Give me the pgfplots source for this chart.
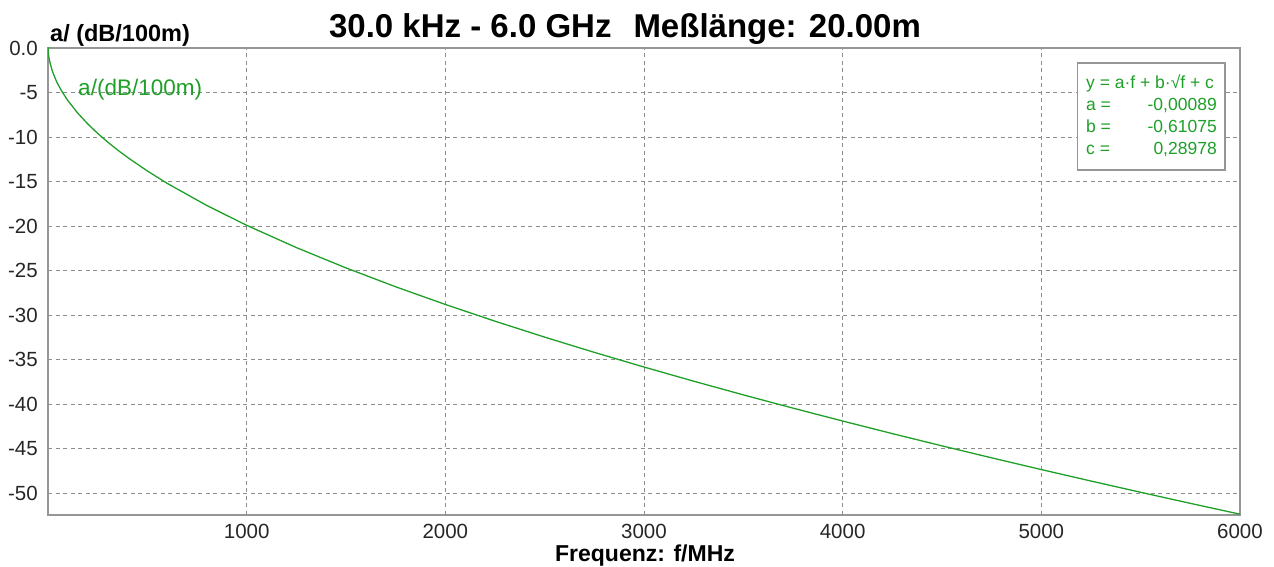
\documentclass[border=0pt]{standalone}
\usepackage{fontspec}
\setmainfont{Liberation Sans}
\usepackage{pgfplots}
\pgfplotsset{compat=1.18}
\definecolor{curve}{RGB}{30,160,40}
\definecolor{frame}{RGB}{150,150,150}
\definecolor{gridc}{RGB}{140,140,140}
\begin{document}
\begin{tikzpicture}[x=1bp,y=1bp]
\useasboundingbox (0,0) rectangle (1274,567);
\begin{axis}[
  at={(48bp,52bp)}, anchor=south west,
  scale only axis, width=1192bp, height=467bp,
  xmin=0, xmax=6000, ymin=-52.45, ymax=0,
  xtick={1000,2000,3000,4000,5000,6000},
  xticklabels={1000,2000,3000,4000,5000,6000},
  ytick={-50,-45,-40,-35,-30,-25,-20,-15,-10,-5,0},
  yticklabels={-50,-45,-40,-35,-30,-25,-20,-15,-10,-5,0.0},
  tick style={draw=none},
  ticklabel style={font=\fontsize{20.5bp}{24bp}\selectfont, text=black!85, inner sep=0pt},
  xticklabel style={anchor=base, yshift=-24bp},
  yticklabel style={anchor=east, xshift=-10bp},
  axis line style={draw=frame, line width=1.2bp},
  grid=major,
  major grid style={draw=gridc, dash pattern=on 4bp off 3.5bp, line width=0.9bp},
  clip=true,
]
\addplot[curve, line width=1.3bp] coordinates {
(0.03,0.184) (1,-0.322) (3,-0.771) (5,-1.080) (10,-1.650) (20,-2.459) (25,-2.786)
(40,-3.609) (50,-4.073) (70,-4.882) (100,-5.907) (150,-7.324) (200,-8.525)
(250,-9.590) (300,-10.556) (350,-11.448) (400,-12.281) (500,-13.812)
(600,-15.205) (800,-17.697) (1000,-19.914) (1250,-22.416) (1500,-24.699)
(1750,-26.818) (2000,-28.804) (2250,-30.683) (2500,-32.473) (2750,-34.186)
(3000,-35.832) (3250,-37.421) (3500,-38.958) (3750,-40.448) (4000,-41.897)
(4250,-43.309) (4500,-44.685) (4750,-46.031) (5000,-47.347) (5250,-48.636)
(5500,-49.900) (5750,-51.140) (6000,-52.359)
};
\node[anchor=west, text=curve, font=\fontsize{22.5bp}{26bp}\selectfont, inner sep=0pt]
  at (rel axis cs:0.0252,0.910) {a/(dB/100m)};
\draw[draw=frame, fill=white, line width=1.2bp]
  (rel axis cs:0.864,0.968) rectangle (rel axis cs:0.9874,0.7388);
\node[anchor=base west, text=curve, font=\fontsize{17.5bp}{20bp}\selectfont, inner sep=0pt]
  at (rel axis cs:0.8708,0.9143) {y = a·f + b·√f + c};
\node[anchor=base west, text=curve, font=\fontsize{17.5bp}{20bp}\selectfont, inner sep=0pt]
  at (rel axis cs:0.8708,0.8651) {a =};
\node[anchor=base west, text=curve, font=\fontsize{17.5bp}{20bp}\selectfont, inner sep=0pt]
  at (rel axis cs:0.8708,0.8180) {b =};
\node[anchor=base west, text=curve, font=\fontsize{17.5bp}{20bp}\selectfont, inner sep=0pt]
  at (rel axis cs:0.8708,0.7709) {c =};
\node[anchor=base east, text=curve, font=\fontsize{17.5bp}{20bp}\selectfont, inner sep=0pt]
  at (rel axis cs:0.9807,0.8651) {-0,00089};
\node[anchor=base east, text=curve, font=\fontsize{17.5bp}{20bp}\selectfont, inner sep=0pt]
  at (rel axis cs:0.9807,0.8180) {-0,61075};
\node[anchor=base east, text=curve, font=\fontsize{17.5bp}{20bp}\selectfont, inner sep=0pt]
  at (rel axis cs:0.9807,0.7709) {0,28978};
\end{axis}
\node[anchor=base, font=\bfseries\fontsize{33bp}{38bp}\selectfont, inner sep=0pt] at (625,529) {30.0 kHz - 6.0 GHz\hspace{22bp}Meßlänge: 20.00m};
\node[anchor=base west, font=\bfseries\fontsize{23.5bp}{27bp}\selectfont, inner sep=0pt] at (50,525) {a/ (dB/100m)};
\node[anchor=base, font=\bfseries\fontsize{23bp}{27bp}\selectfont, inner sep=0pt] at (645,5.5) {Frequenz: f/MHz};
\end{tikzpicture}
\end{document}
